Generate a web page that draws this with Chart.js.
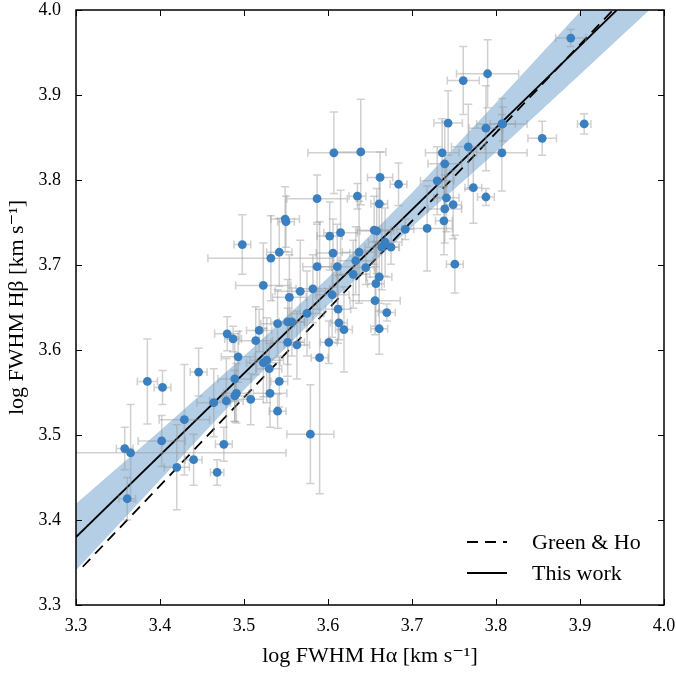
<!DOCTYPE html>
<html>
<head>
<meta charset="utf-8">
<script src="https://cdn.jsdelivr.net/npm/chart.js@4"></script>
<style>
  html, body { margin: 0; padding: 0; background: #fff; }
  #wrap { width: 676px; height: 673px; }
</style>
</head>
<body>
<div id="wrap"><canvas id="c" width="676" height="673"></canvas></div>
<script>
// measured points: log FWHM Ha (x), log FWHM Hb (y) and their errors
const xs = [3.358, 3.365, 3.361, 3.385, 3.403, 3.402, 3.420, 3.429, 3.440, 3.446,
  3.464, 3.468, 3.476, 3.479, 3.480, 3.487, 3.489, 3.489, 3.491, 3.493,
  3.498, 3.508, 3.514, 3.518, 3.523, 3.523, 3.527, 3.530, 3.531, 3.532,
  3.542, 3.540, 3.542, 3.540, 3.549, 3.550, 3.552, 3.557, 3.552, 3.554,
  3.563, 3.567, 3.575, 3.579, 3.582, 3.587, 3.587, 3.590, 3.601, 3.602,
  3.605, 3.606, 3.607, 3.611, 3.612, 3.613, 3.615, 3.619, 3.630, 3.633,
  3.635, 3.637, 3.639, 3.645, 3.655, 3.658, 3.656, 3.657, 3.661, 3.661,
  3.661, 3.662, 3.664, 3.668, 3.670, 3.675, 3.684, 3.692, 3.718, 3.730,
  3.736, 3.738, 3.739, 3.739, 3.741, 3.743, 3.749, 3.751, 3.761, 3.767,
  3.773, 3.788, 3.788, 3.790, 3.807, 3.808, 3.807, 3.855, 3.889, 3.905];
const ys = [3.484, 3.479, 3.425, 3.563, 3.556, 3.493, 3.462, 3.518, 3.471, 3.574,
  3.538, 3.456, 3.489, 3.540, 3.619, 3.613, 3.566, 3.546, 3.549, 3.592,
  3.724, 3.542, 3.611, 3.623, 3.676, 3.585, 3.588, 3.578, 3.549, 3.708,
  3.715, 3.631, 3.563, 3.528, 3.754, 3.751, 3.633, 3.633, 3.609, 3.662,
  3.606, 3.669, 3.643, 3.501, 3.672, 3.698, 3.778, 3.591, 3.609, 3.734,
  3.665, 3.714, 3.832, 3.698, 3.648, 3.632, 3.738, 3.624, 3.689, 3.705,
  3.781, 3.715, 3.833, 3.697, 3.741, 3.740, 3.658, 3.678, 3.686, 3.625,
  3.772, 3.803, 3.721, 3.727, 3.644, 3.721, 3.795, 3.742, 3.743, 3.799,
  3.832, 3.752, 3.819, 3.766, 3.779, 3.867, 3.771, 3.701, 3.917, 3.839,
  3.791, 3.861, 3.780, 3.925, 3.866, 3.866, 3.832, 3.849, 3.967, 3.866];
const xErr = [0.010, 0.185, 0.010, 0.012, 0.010, 0.028, 0.015, 0.030, 0.010, 0.010,
  0.020, 0.008, 0.010, 0.020, 0.015, 0.010, 0.020, 0.015, 0.015, 0.020,
  0.010, 0.015, 0.020, 0.015, 0.033, 0.020, 0.020, 0.015, 0.020, 0.075,
  0.015, 0.020, 0.010, 0.010, 0.017, 0.010, 0.020, 0.015, 0.020, 0.020,
  0.015, 0.030, 0.020, 0.028, 0.020, 0.017, 0.036, 0.010, 0.010, 0.015,
  0.020, 0.020, 0.031, 0.020, 0.015, 0.010, 0.020, 0.010, 0.020, 0.020,
  0.010, 0.020, 0.030, 0.010, 0.020, 0.020, 0.030, 0.010, 0.015, 0.010,
  0.010, 0.015, 0.020, 0.020, 0.010, 0.010, 0.010, 0.010, 0.030, 0.020,
  0.020, 0.010, 0.020, 0.020, 0.015, 0.017, 0.010, 0.010, 0.019, 0.020,
  0.010, 0.020, 0.010, 0.037, 0.030, 0.015, 0.030, 0.017, 0.018, 0.008];
const yErr = [0.025, 0.057, 0.025, 0.050, 0.020, 0.030, 0.050, 0.065, 0.030, 0.028,
  0.040, 0.015, 0.020, 0.050, 0.020, 0.015, 0.050, 0.030, 0.035, 0.030,
  0.035, 0.030, 0.040, 0.025, 0.050, 0.040, 0.050, 0.030, 0.040, 0.050,
  0.040, 0.040, 0.030, 0.020, 0.038, 0.030, 0.050, 0.040, 0.040, 0.050,
  0.040, 0.060, 0.050, 0.058, 0.040, 0.050, 0.028, 0.160, 0.025, 0.040,
  0.050, 0.040, 0.048, 0.050, 0.040, 0.020, 0.050, 0.050, 0.040, 0.040,
  0.015, 0.060, 0.062, 0.020, 0.040, 0.050, 0.040, 0.050, 0.040, 0.030,
  0.030, 0.030, 0.050, 0.040, 0.010, 0.020, 0.025, 0.012, 0.050, 0.040,
  0.040, 0.040, 0.050, 0.040, 0.040, 0.038, 0.040, 0.034, 0.040, 0.050,
  0.042, 0.050, 0.010, 0.040, 0.030, 0.020, 0.045, 0.020, 0.010, 0.012];

// fit relations
const fitX = [3.30, 4.00];
const fitY = [3.380, 4.054];
const ghX = [3.308, 3.945];
const ghY = [3.345, 4.006];
// confidence band of the fit
const bandX = [3.30, 3.40, 3.50, 3.60, 3.70, 3.80, 3.90, 4.00];
const bandLo = [3.341, 3.447, 3.553, 3.653, 3.745, 3.833, 3.924, 4.016];
const bandHi = [3.419, 3.505, 3.593, 3.685, 3.785, 3.891, 3.998, 4.100];

const tickVals = [3.3, 3.4, 3.5, 3.6, 3.7, 3.8, 3.9, 4.0];
const legendLabels = ["Green & Ho", "This work"];

const serif = "'Liberation Serif', 'DejaVu Serif', serif";
const pts = xs.map((x, i) => ({ x: x, y: ys[i] }));
const toXY = (a, b) => a.map((v, i) => ({ x: v, y: b[i] }));

// gray error bars under the points
const errorBars = {
  id: "errorBars",
  beforeDatasetDraw(chart, args) {
    if (args.index !== 0) return;
    const { ctx, chartArea: a, scales: { x, y } } = chart;
    ctx.save();
    ctx.beginPath();
    ctx.rect(a.left, a.top, a.right - a.left, a.bottom - a.top);
    ctx.clip();
    ctx.strokeStyle = "rgba(150,150,150,0.45)";
    ctx.lineWidth = 1.5;
    const cap = 4;
    xs.forEach((xv, i) => {
      const px = x.getPixelForValue(xv), py = y.getPixelForValue(ys[i]);
      const x0 = x.getPixelForValue(xv - xErr[i]), x1 = x.getPixelForValue(xv + xErr[i]);
      const y0 = y.getPixelForValue(ys[i] - yErr[i]), y1 = y.getPixelForValue(ys[i] + yErr[i]);
      ctx.beginPath();
      ctx.moveTo(x0, py); ctx.lineTo(x1, py);
      ctx.moveTo(x0, py - cap); ctx.lineTo(x0, py + cap);
      ctx.moveTo(x1, py - cap); ctx.lineTo(x1, py + cap);
      ctx.moveTo(px, y0); ctx.lineTo(px, y1);
      ctx.moveTo(px - cap, y0); ctx.lineTo(px + cap, y0);
      ctx.moveTo(px - cap, y1); ctx.lineTo(px + cap, y1);
      ctx.stroke();
    });
    ctx.restore();
  }
};

// box frame, inward ticks and the legend
const frame = {
  id: "frame",
  afterDraw(chart) {
    const { ctx, chartArea: a, scales: { x, y } } = chart;
    ctx.save();
    ctx.strokeStyle = "#000";
    ctx.lineWidth = 1;
    const t = 6;
    ctx.beginPath();
    tickVals.forEach(v => {
      const px = Math.round(x.getPixelForValue(v)) + 0.5;
      ctx.moveTo(px, a.bottom); ctx.lineTo(px, a.bottom - t);
      ctx.moveTo(px, a.top); ctx.lineTo(px, a.top + t);
      const py = Math.round(y.getPixelForValue(v)) + 0.5;
      ctx.moveTo(a.left, py); ctx.lineTo(a.left + t, py);
      ctx.moveTo(a.right, py); ctx.lineTo(a.right - t, py);
    });
    ctx.stroke();
    ctx.lineWidth = 1.5;
    ctx.strokeRect(a.left, a.top, a.right - a.left, a.bottom - a.top);

    // legend
    const lx0 = a.right - 197, lx1 = a.right - 157, tx = a.right - 132;
    const rows = [a.bottom - 63, a.bottom - 32];
    ctx.font = "22px " + serif;
    ctx.fillStyle = "#000";
    ctx.textBaseline = "middle";
    rows.forEach((ry, i) => {
      ctx.beginPath();
      ctx.lineWidth = 2;
      ctx.setLineDash(i === 0 ? [11, 7] : []);
      ctx.moveTo(lx0, ry); ctx.lineTo(lx1, ry);
      ctx.stroke();
      ctx.setLineDash([]);
      ctx.fillText(legendLabels[i], tx, ry + 1);
    });
    ctx.restore();
  }
};

const noEdgePad = s => {
  s.paddingLeft = 0; s.paddingRight = 0; s.paddingTop = 0; s.paddingBottom = 0;
};

new Chart(document.getElementById("c"), {
  type: "scatter",
  data: {
    datasets: [
      { label: "data", data: pts, backgroundColor: "#3a7fc0", borderWidth: 0, pointRadius: 4.4 },
      { label: legendLabels[1], type: "line", data: toXY(fitX, fitY), borderColor: "#000",
        borderWidth: 1.8, pointRadius: 0, fill: false },
      { label: legendLabels[0], type: "line", data: toXY(ghX, ghY), borderColor: "#000",
        borderWidth: 1.8, borderDash: [11, 7], pointRadius: 0, fill: false },
      { label: "band hi", type: "line", data: toXY(bandX, bandHi), borderWidth: 0,
        pointRadius: 0, backgroundColor: "#b3cee5", fill: "+1" },
      { label: "band lo", type: "line", data: toXY(bandX, bandLo), borderWidth: 0,
        pointRadius: 0, fill: false }
    ]
  },
  options: {
    responsive: false,
    animation: false,
    layout: { padding: { top: 10, right: 12, left: 0, bottom: 0 } },
    plugins: { legend: { display: false }, tooltip: { enabled: false } },
    scales: {
      x: {
        type: "linear", min: 3.3, max: 4.0,
        afterBuildTicks: s => { s.ticks = tickVals.map(v => ({ value: v })); },
        afterFit: s => { s.height = 68; noEdgePad(s); },
        grid: { display: false },
        border: { display: false },
        ticks: { color: "#000", font: { family: serif, size: 18 }, padding: 2,
          maxRotation: 0, callback: v => v.toFixed(1) },
        title: { display: true, text: "log FWHM H\u03b1 [km s\u207b\u00b9]", color: "#000",
          font: { family: serif, size: 22 }, padding: { top: 4 } }
      },
      y: {
        type: "linear", min: 3.3, max: 4.0,
        afterBuildTicks: s => { s.ticks = tickVals.map(v => ({ value: v })); },
        afterFit: s => { s.width = 76; noEdgePad(s); },
        grid: { display: false },
        border: { display: false },
        ticks: { color: "#000", font: { family: serif, size: 18 }, padding: 7,
          callback: v => v.toFixed(1) },
        title: { display: true, text: "log FWHM H\u03b2 [km s\u207b\u00b9]", color: "#000",
          font: { family: serif, size: 22 }, padding: { top: 4, bottom: 0 } }
      }
    }
  },
  plugins: [errorBars, frame]
});
</script>
</body>
</html>
